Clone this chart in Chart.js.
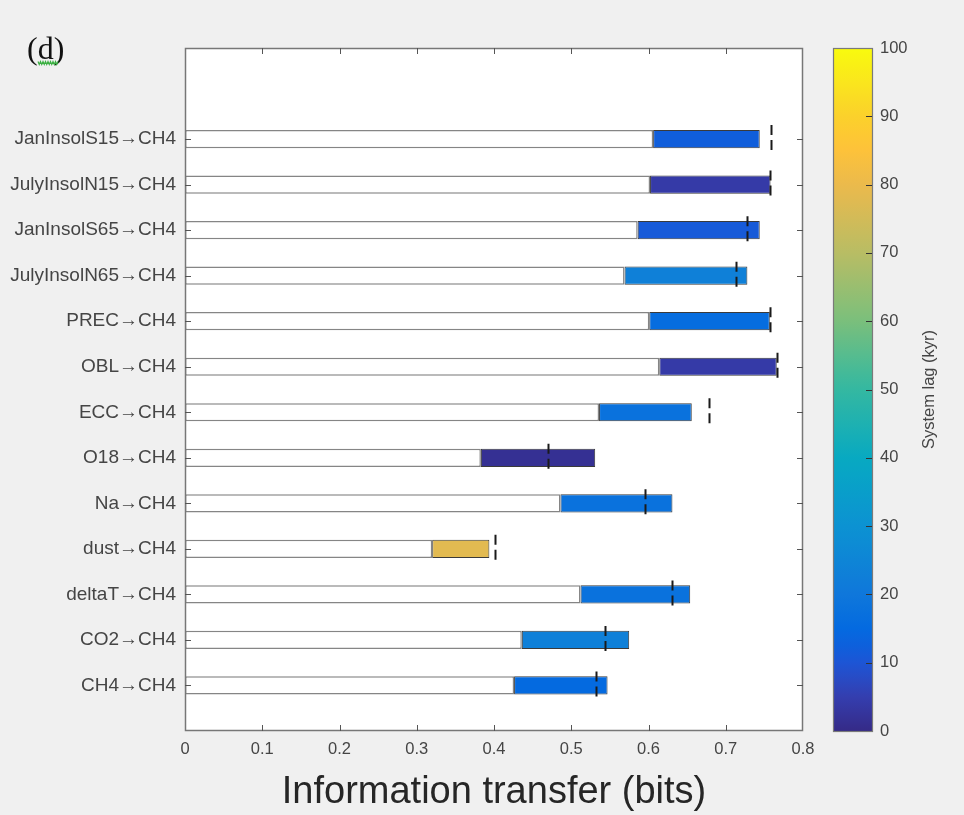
<!DOCTYPE html>
<html lang="en">
<head>
    <meta charset="UTF-8">
    <title>Information transfer to CH4</title>
    <script src="https://cdn.jsdelivr.net/npm/chart.js"></script>
    <style>
        html, body { margin: 0; padding: 0; background: #f0f0f0; }
        #wrap { position: relative; width: 964px; height: 815px; }
    </style>
</head>
<body>
<div id="wrap"><canvas id="transferChart" width="964" height="815"></canvas></div>

<script>
    // Source variables (each one -> CH4), top row first
    const sources = ['JanInsolS15', 'JulyInsolN15', 'JanInsolS65', 'JulyInsolN65', 'PREC', 'OBL',
                     'ECC', 'O18', 'Na', 'dust', 'deltaT', 'CO2', 'CH4'];
    // Information transfer (bits): white part ends at baseTransfer, coloured part runs on to totalTransfer
    const baseTransfer  = [0.606, 0.602, 0.586, 0.569, 0.601, 0.614, 0.536, 0.383, 0.486, 0.320, 0.512, 0.436, 0.426];
    const totalTransfer = [0.744, 0.758, 0.744, 0.728, 0.757, 0.766, 0.656, 0.531, 0.631, 0.394, 0.654, 0.575, 0.547];
    // dashed marker per row
    const thresholds    = [0.759, 0.757, 0.728, 0.713, 0.757, 0.766, 0.678, 0.470, 0.596, 0.401, 0.630, 0.544, 0.532];
    // system lag (kyr), gives the bar colour
    const systemLag     = [12, 4, 11, 23, 16, 4, 18, 1.5, 18, 78, 18, 23, 15];

    const xTicks   = [0, 0.1, 0.2, 0.3, 0.4, 0.5, 0.6, 0.7, 0.8];
    const lagTicks = [0, 10, 20, 30, 40, 50, 60, 70, 80, 90, 100];

    // parula colour map stops (position, rgb)
    const parulaStops = [
        [0.000, [53, 42, 135]], [0.048, [53, 61, 173]], [0.095, [32, 83, 212]], [0.143, [2, 104, 225]],
        [0.206, [16, 121, 218]], [0.302, [12, 147, 210]], [0.397, [7, 169, 194]], [0.508, [56, 185, 158]],
        [0.603, [124, 191, 123]], [0.698, [183, 189, 100]], [0.794, [233, 185, 78]], [0.857, [255, 195, 55]],
        [0.905, [250, 211, 42]], [1.000, [249, 251, 14]]
    ];
    function parula(t) {
        t = Math.max(0, Math.min(1, t));
        for (let i = 1; i < parulaStops.length; i++) {
            const [p1, c1] = parulaStops[i];
            const [p0, c0] = parulaStops[i - 1];
            if (t <= p1) {
                const f = (t - p0) / (p1 - p0);
                const c = c0.map((v, k) => Math.round(v + (c1[k] - v) * f));
                return `rgb(${c[0]}, ${c[1]}, ${c[2]})`;
            }
        }
        return 'rgb(249, 251, 14)';
    }

    // two empty slots above the first row and one below the last (as in the figure)
    const pad = arr => [null, null, ...arr, null];
    const labels = pad(sources.map(s => s + '\u2192CH4')).map(l => l === null ? '' : l);

    Chart.defaults.font.family = '"Liberation Sans", Arial, sans-serif';
    const axisGray = '#454545';

    // background, frame, inward ticks, markers, colour bar
    const figurePlugin = {
        id: 'figure',
        beforeDraw(chart) {
            const { ctx, chartArea: a } = chart;
            ctx.save();
            ctx.fillStyle = '#f0f0f0';
            ctx.fillRect(0, 0, chart.width, chart.height);
            ctx.fillStyle = '#ffffff';
            ctx.fillRect(a.left, a.top, a.right - a.left, a.bottom - a.top);
            ctx.restore();
        },
        afterDatasetsDraw(chart) {
            const { ctx } = chart;
            const xs = chart.scales.x, ys = chart.scales.y;
            ctx.save();
            ctx.strokeStyle = '#1a1a1a';
            ctx.lineWidth = 2;
            ctx.setLineDash([10, 5]);
            thresholds.forEach((v, i) => {
                const px = Math.round(xs.getPixelForValue(v)) + 0.5;
                const py = ys.getPixelForValue(i + 2);
                ctx.beginPath();
                ctx.moveTo(px, py - 14);
                ctx.lineTo(px, py + 14);
                ctx.stroke();
            });
            ctx.restore();
        },
        afterDraw(chart) {
            const { ctx, chartArea: a } = chart;
            const xs = chart.scales.x, ys = chart.scales.y, ls = chart.scales.lag;
            ctx.save();
            // frame
            ctx.strokeStyle = '#777';
            ctx.lineWidth = 1.5;
            ctx.strokeRect(a.left + 0.5, a.top + 0.5, a.right - a.left - 1, a.bottom - a.top - 1);
            // inward ticks
            ctx.strokeStyle = '#555';
            ctx.lineWidth = 1;
            ctx.beginPath();
            xTicks.slice(1, -1).forEach(v => {
                const px = Math.round(xs.getPixelForValue(v)) + 0.5;
                ctx.moveTo(px, a.bottom); ctx.lineTo(px, a.bottom - 6);
                ctx.moveTo(px, a.top); ctx.lineTo(px, a.top + 6);
            });
            sources.forEach((s, i) => {
                const py = Math.round(ys.getPixelForValue(i + 2)) + 0.5;
                ctx.moveTo(a.left, py); ctx.lineTo(a.left + 6, py);
                ctx.moveTo(a.right, py); ctx.lineTo(a.right - 6, py);
            });
            ctx.stroke();

            // colour bar
            const cbL = ls.left + 30, cbW = 39;
            const yTop = ls.getPixelForValue(100), yBot = ls.getPixelForValue(0);
            const grad = ctx.createLinearGradient(0, yBot, 0, yTop);
            for (let k = 0; k <= 40; k++) grad.addColorStop(k / 40, parula(k / 40));
            ctx.fillStyle = grad;
            ctx.fillRect(cbL, yTop, cbW, yBot - yTop);
            ctx.strokeStyle = '#7a7a7a';
            ctx.lineWidth = 1.2;
            ctx.strokeRect(cbL + 0.5, yTop + 0.5, cbW, yBot - yTop);
            ctx.strokeStyle = '#333';
            ctx.lineWidth = 1;
            ctx.beginPath();
            lagTicks.slice(1, -1).forEach(v => {
                const py = Math.round(ls.getPixelForValue(v)) + 0.5;
                ctx.moveTo(cbL + cbW, py); ctx.lineTo(cbL + cbW - 6, py);
            });
            ctx.stroke();
            // colour bar title
            ctx.translate(ls.left + 126, (yTop + yBot) / 2);
            ctx.rotate(-Math.PI / 2);
            ctx.fillStyle = axisGray;
            ctx.font = '16.5px "Liberation Sans", Arial, sans-serif';
            ctx.textAlign = 'center';
            ctx.textBaseline = 'middle';
            ctx.fillText('System lag (kyr)', 0, 0);
            ctx.restore();

            // panel letter
            ctx.save();
            ctx.fillStyle = '#111';
            ctx.font = '32px "Liberation Serif", "Times New Roman", serif';
            ctx.textBaseline = 'alphabetic';
            ctx.fillText('(d)', 27, 59);
            ctx.strokeStyle = '#3cb043';
            ctx.lineWidth = 1.2;
            ctx.beginPath();
            for (let k = 0; k <= 16; k++) {
                const wx = 38 + k * 1.25, wy = 63 + (k % 2 ? 1.5 : -1.5);
                k === 0 ? ctx.moveTo(wx, wy) : ctx.lineTo(wx, wy);
            }
            ctx.stroke();
            ctx.restore();
        }
    };

    // keep the label padding from pushing the plot box around
    const noEdgePadding = s => { s.paddingTop = 0; s.paddingBottom = 0; };

    const ctx = document.getElementById('transferChart').getContext('2d');
    const transferChart = new Chart(ctx, {
        type: 'bar',
        data: {
            labels: labels,
            datasets: [{
                label: 'base',
                data: pad(baseTransfer.map(v => [0, v])),
                backgroundColor: '#ffffff',
                borderColor: '#858585',
                borderWidth: 1.5,
                borderSkipped: false,
                grouped: false,
                barPercentage: 0.4,
                categoryPercentage: 1
            }, {
                label: 'lagged',
                data: pad(baseTransfer.map((v, i) => [v, totalTransfer[i]])),
                backgroundColor: pad(systemLag.map(l => parula(l / 100))),
                borderColor: '#3a3a3a',
                borderWidth: 1,
                borderSkipped: false,
                grouped: false,
                barPercentage: 0.4,
                categoryPercentage: 1
            }]
        },
        options: {
            responsive: false,
            animation: false,
            indexAxis: 'y',
            layout: { padding: { top: 48, left: 0, right: 0, bottom: 0 } },
            plugins: {
                legend: { display: false },
                tooltip: { enabled: false }
            },
            scales: {
                x: {
                    type: 'linear',
                    min: 0,
                    max: 0.8,
                    grid: { display: false, drawTicks: false },
                    border: { display: false },
                    afterBuildTicks: s => { s.ticks = xTicks.map(v => ({ value: v })); },
                    afterFit: s => { s.height = 84; },
                    ticks: {
                        color: axisGray,
                        font: { size: 16.5 },
                        padding: 9,
                        maxRotation: 0,
                        autoSkip: false,
                        callback: v => String(v)
                    },
                    title: {
                        display: true,
                        text: 'Information transfer (bits)',
                        color: '#262626',
                        font: { size: 38 },
                        padding: 0
                    }
                },
                y: {
                    type: 'category',
                    offset: false,
                    grid: { display: false, drawTicks: false },
                    border: { display: false },
                    afterFit: s => { s.width = 185; noEdgePadding(s); },
                    ticks: {
                        color: axisGray,
                        font: { size: 19 },
                        padding: 9,
                        autoSkip: false
                    }
                },
                lag: {
                    type: 'linear',
                    position: 'right',
                    offset: false,
                    min: 0,
                    max: 100,
                    grid: { display: false, drawTicks: false, offset: false },
                    border: { display: false },
                    afterBuildTicks: s => { s.ticks = lagTicks.map(v => ({ value: v })); },
                    afterFit: s => { s.width = 161; noEdgePadding(s); },
                    ticks: {
                        color: axisGray,
                        font: { size: 16.5 },
                        padding: 77
                    }
                }
            }
        },
        plugins: [figurePlugin]
    });
</script>
</body>
</html>
